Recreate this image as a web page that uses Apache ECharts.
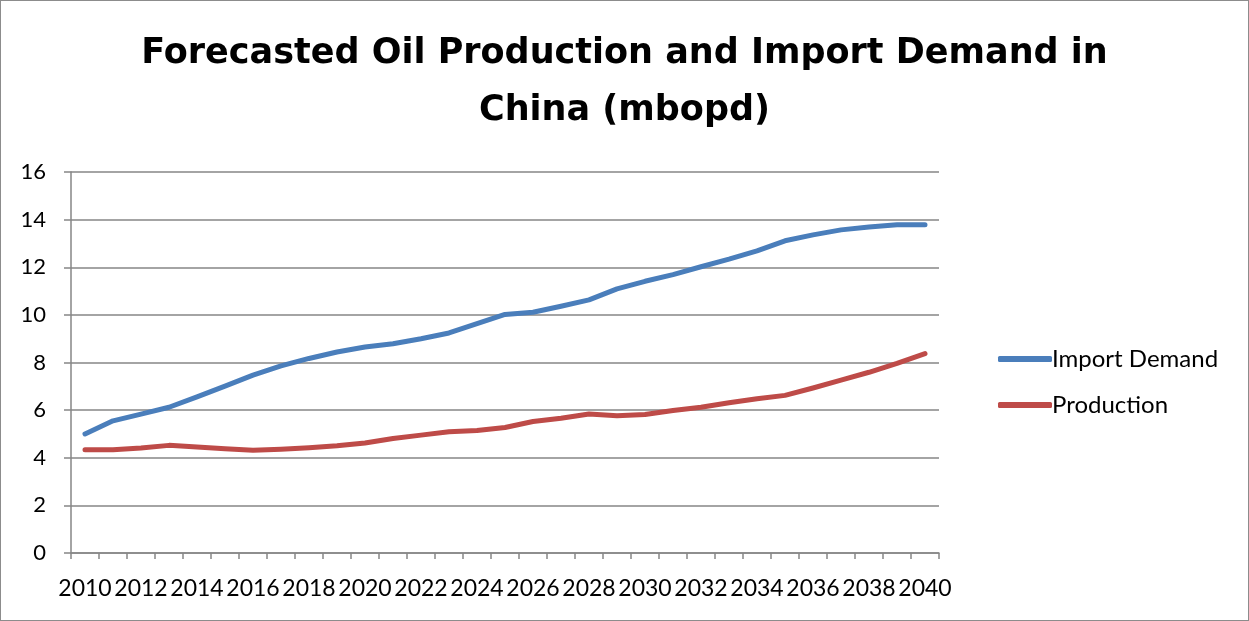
<!DOCTYPE html>
<html>
<head>
<meta charset="utf-8">
<script src="https://cdn.jsdelivr.net/npm/echarts@6/dist/echarts.min.js"></script>
<style>
  html, body { margin: 0; padding: 0; background: #fff; }
  #chart { width: 1249px; height: 621px; box-sizing: border-box; border: 1px solid #8c8c8c; }
</style>
</head>
<body>
<div id="chart"></div>
<script>
// Years 2010–2040
const years = [];
for (let y = 2010; y <= 2040; y++) years.push(String(y));

// Million barrels of oil per day
const importDemand = [
  5.00, 5.55, 5.83, 6.12, 6.56, 7.01, 7.47, 7.86, 8.17, 8.44,
  8.65, 8.79, 9.00, 9.24, 9.63, 10.02, 10.11, 10.36, 10.63, 11.09,
  11.41, 11.69, 12.02, 12.34, 12.69, 13.11, 13.36, 13.57, 13.69, 13.78,
  13.78
];
const production = [
  4.34, 4.34, 4.41, 4.52, 4.45, 4.38, 4.31, 4.36, 4.42, 4.50,
  4.62, 4.81, 4.95, 5.09, 5.14, 5.27, 5.52, 5.66, 5.84, 5.76,
  5.82, 5.98, 6.12, 6.31, 6.48, 6.62, 6.93, 7.26, 7.59, 7.96,
  8.37
];

const FONT = 'Lato, "Noto Sans", sans-serif';
const TITLE_FONT = '"DejaVu Sans", Lato, sans-serif';
const GRID_GRAY = '#868686';

const chart = echarts.init(document.getElementById('chart'));
chart.setOption({
  animation: false,
  backgroundColor: '#fff',
  title: {
    text: 'Forecasted Oil Production and Import Demand in\nChina (mbopd)',
    left: 'center',
    top: 19,
    textStyle: {
      fontFamily: TITLE_FONT,
      fontSize: 35,
      fontWeight: 'bold',
      color: '#000',
      lineHeight: 57
    }
  },
  legend: {
    orient: 'vertical',
    left: 992,
    top: 341,
    itemWidth: 54,
    itemHeight: 6,
    itemGap: 22,
    icon: 'roundRect',
    textStyle: { fontFamily: FONT, fontSize: 24, color: '#000', padding: [0, 0, 0, -5] },
    data: ['Import Demand', 'Production']
  },
  grid: { left: 70, right: 309, top: 171, bottom: 67 },
  xAxis: {
    type: 'category',
    data: years,
    boundaryGap: true,
    axisLine: { lineStyle: { color: GRID_GRAY, width: 1.5 } },
    axisTick: { show: true, length: 6, alignWithLabel: false, interval: 0, lineStyle: { color: GRID_GRAY, width: 1.5 } },
    axisLabel: { interval: 1, fontFamily: FONT, fontSize: 23, color: '#000', margin: 24 }
  },
  yAxis: {
    type: 'value',
    min: 0,
    max: 16,
    interval: 2,
    axisLine: { show: true, lineStyle: { color: GRID_GRAY, width: 1.5 } },
    axisTick: { show: true, length: 7, lineStyle: { color: GRID_GRAY, width: 1.5 } },
    axisLabel: { fontFamily: FONT, fontSize: 22, color: '#000', margin: 25 },
    splitLine: { lineStyle: { color: GRID_GRAY, width: 1.5 } }
  },
  series: [
    {
      name: 'Import Demand',
      type: 'line',
      data: importDemand,
      symbol: 'none',
      color: '#4a7ebb',
      lineStyle: { width: 5, cap: 'round', join: 'round' }
    },
    {
      name: 'Production',
      type: 'line',
      data: production,
      symbol: 'none',
      color: '#be4b48',
      lineStyle: { width: 5, cap: 'round', join: 'round' }
    }
  ]
});
</script>
</body>
</html>
